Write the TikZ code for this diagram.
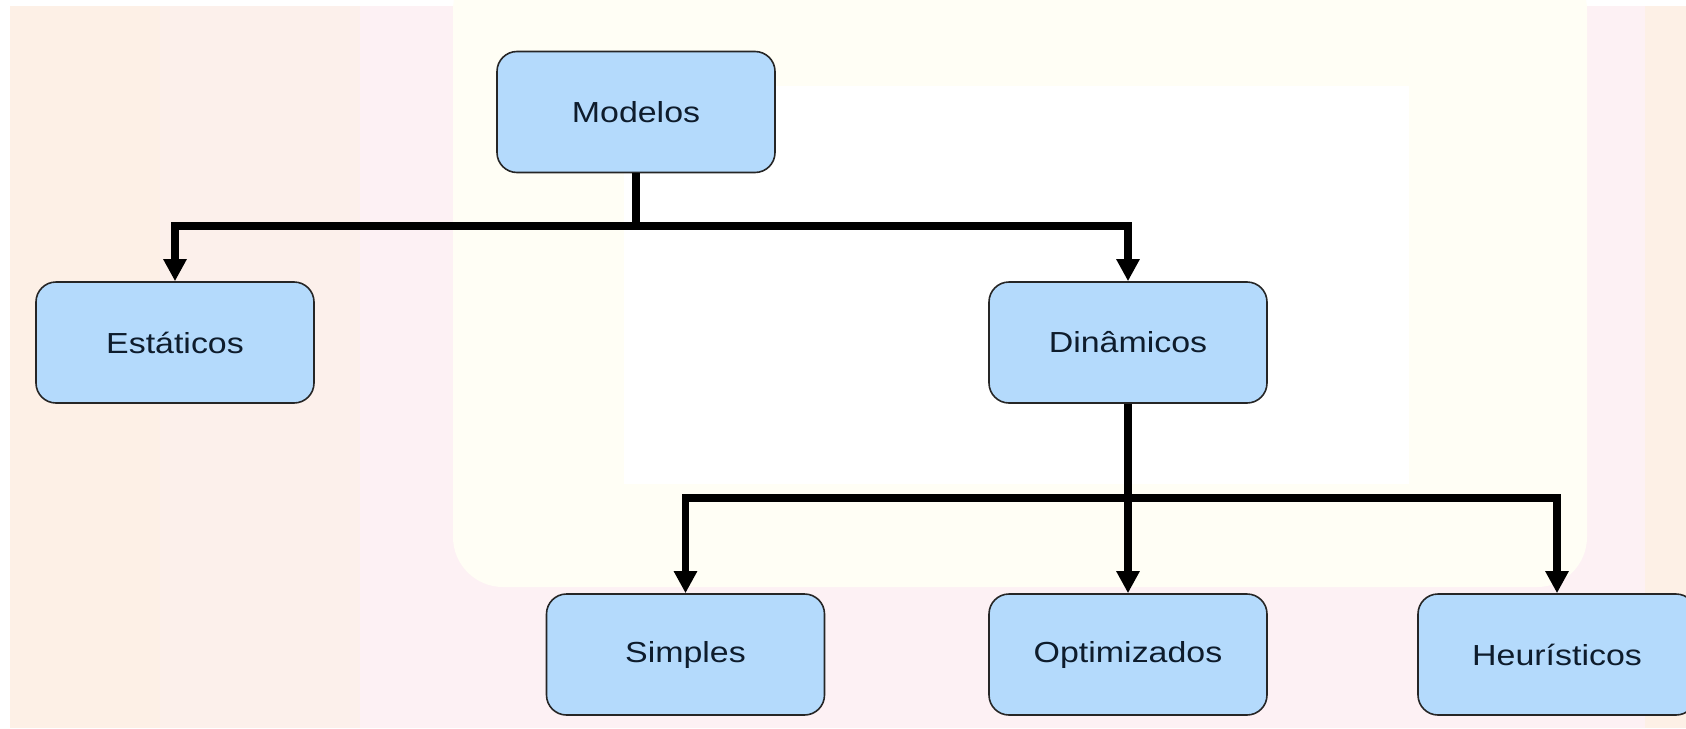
\documentclass[tikz,border=0pt]{standalone}
\usepackage{fontspec}
\setmainfont{Liberation Sans}
\usepackage{graphicx}
\usetikzlibrary{arrows.meta}
\definecolor{bgpeach}{HTML}{FDF0E6}
\definecolor{bgpeach2}{HTML}{FCF0EB}
\definecolor{bgpink}{HTML}{FDF1F4}
\definecolor{bgcream}{HTML}{FFFEF5}
\definecolor{boxfill}{HTML}{B4DAFC}
\definecolor{boxtext}{HTML}{0E1C2C}
\newcommand{\lbl}[1]{\scalebox{1.17}[1]{#1}}
\tikzset{
  box/.style={draw=black!85, line width=0.8pt, fill=boxfill, rounded corners=10pt,
    minimum width=139pt, minimum height=60.5pt, inner sep=0pt,
    text=boxtext, font=\fontsize{14.5pt}{17pt}\selectfont},
  conn/.style={line width=3.9pt, line join=miter, -{Triangle[width=11pt,length=11pt]}},
  plain/.style={line width=3.9pt, line join=miter}
}
\begin{document}
\begin{tikzpicture}[x=0.5pt,y=-0.5pt]
\useasboundingbox (0,0) rectangle (1686,728);
\clip (0,0) rectangle (1686,728);
% background
\fill[white] (0,0) rectangle (1686,728);
\fill[bgpeach] (10,6) rectangle (1686,728);
\fill[bgpeach2] (160,6) rectangle (1645,728);
\fill[bgpink] (360,6) rectangle (1645,728);
\fill[bgcream, rounded corners=25pt] (453,-40) rectangle (1587,587);
\fill[white] (624,86) rectangle (1409,484);
% nodes
\node[box] (M) at (636,112) {\lbl{Modelos}};
\node[box] (E) at (175,342.5) {\lbl{Estáticos}};
\node[box] (D) at (1128,342.5) {\lbl{Dinâmicos}};
\node[box] (S) at (685.5,654.5) {\lbl{Simples}};
\node[box] (O) at (1128,654.5) {\lbl{Optimizados}};
\node[box] (H) at (1557,654.5) {\lbl{Heurísticos}};
% connectors
\coordinate (j1) at (636,226);
\coordinate (j2) at (1128,498);
\draw[plain] (M.south) -- (j1);
\draw[conn] (j1) -| (E.north);
\draw[conn] (j1) -| (D.north);
\draw[plain] (D.south) -- (j2);
\draw[conn] (j2) -| (S.north);
\draw[conn] (j2) -- (O.north);
\draw[conn] (j2) -| (H.north);
\end{tikzpicture}
\end{document}
